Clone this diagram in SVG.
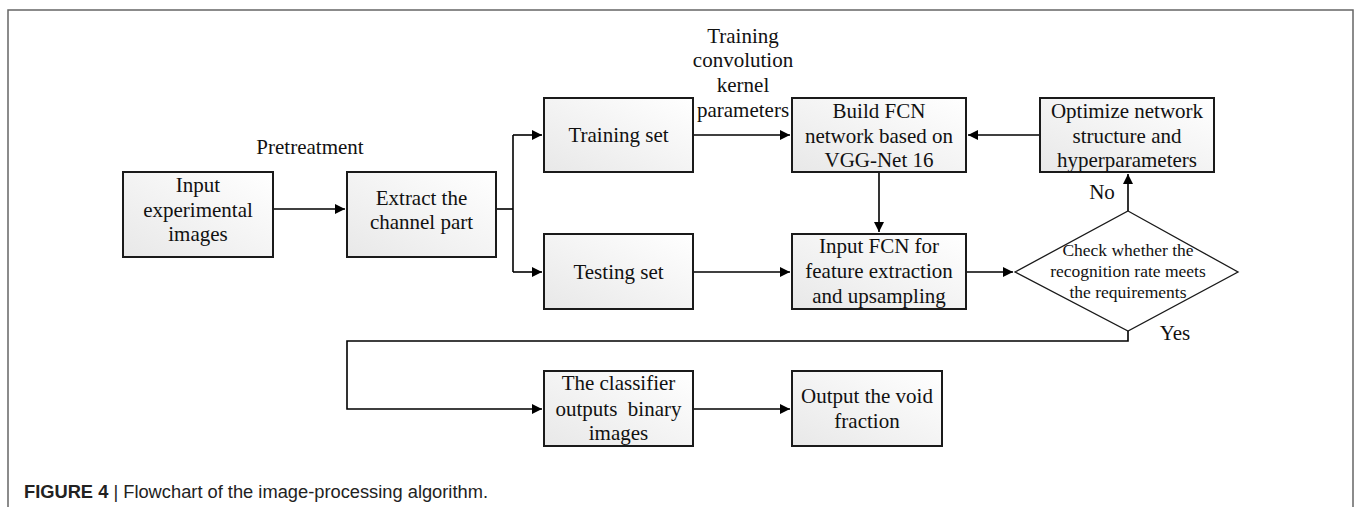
<svg xmlns="http://www.w3.org/2000/svg" width="1356" height="507" viewBox="0 0 1356 507">
<defs>
<linearGradient id="g" x1="1" y1="0" x2="0" y2="1">
<stop offset="0" stop-color="#ffffff"/>
<stop offset="1" stop-color="#e8e8e8"/>
</linearGradient>
<marker id="ah" viewBox="0 0 10 10" refX="10" refY="5" markerWidth="10" markerHeight="10" markerUnits="userSpaceOnUse" orient="auto">
<path d="M0,0 L10,5 L0,10 z" fill="#000"/>
</marker>
</defs>
<style>
.box{fill:url(#g);stroke:#1a1a1a;stroke-width:2}
.dia{fill:#fff;stroke:#1a1a1a;stroke-width:1.3}
.t{font-family:"Liberation Serif","Times New Roman",serif;font-size:21px;fill:#111;text-anchor:middle}
.ts{font-family:"Liberation Serif","Times New Roman",serif;font-size:17.5px;fill:#111;text-anchor:middle}
.c{fill:none;stroke:#000;stroke-width:1.6}
.cap{font-family:"Liberation Sans",Arial,sans-serif;font-size:18.3px;fill:#222}
</style>
<rect width="1356" height="507" fill="#fff"/>
<path d="M8,507 V10 H1353 V507" fill="none" stroke="#666" stroke-width="1.5"/>

<g id="connectors">
<path class="c" d="M273,209 H345" marker-end="url(#ah)"/>
<path class="c" d="M496,209 H513"/>
<path class="c" d="M513,135 V272"/>
<path class="c" d="M513,135 H542" marker-end="url(#ah)"/>
<path class="c" d="M513,272 H542" marker-end="url(#ah)"/>
<path class="c" d="M693,135 H790" marker-end="url(#ah)"/>
<path class="c" d="M1040,135 H968" marker-end="url(#ah)"/>
<path class="c" d="M879,172 V232" marker-end="url(#ah)"/>
<path class="c" d="M693,272 H790" marker-end="url(#ah)"/>
<path class="c" d="M966,272 H1013" marker-end="url(#ah)"/>
<path class="c" d="M1128,211 V174" marker-end="url(#ah)"/>
<path class="c" d="M1128,331 V341 H347 V409 H542" marker-end="url(#ah)"/>
<path class="c" d="M693,409 H790" marker-end="url(#ah)"/>
<text class="t" x="310" y="154">Pretreatment</text>
<text class="t" x="743" y="43">Training</text>
<text class="t" x="743" y="67">convolution</text>
<text class="t" x="743" y="92">kernel</text>
<text class="t" x="743" y="117">parameters</text>
<text class="t" x="1102" y="199">No</text>
<text class="t" x="1175" y="340">Yes</text>
</g>

<g id="n1"><rect class="box" x="123" y="172" width="150" height="85"/>
<text class="t" x="198" y="192">Input</text><text class="t" x="198" y="217">experimental</text><text class="t" x="198" y="241">images</text></g>

<g id="n2"><rect class="box" x="347" y="172" width="149" height="85"/>
<text class="t" x="421.5" y="205">Extract the</text><text class="t" x="421.5" y="229">channel part</text></g>

<g id="n3"><rect class="box" x="544" y="98" width="149" height="74"/>
<text class="t" x="618.5" y="142">Training set</text></g>

<g id="n4"><rect class="box" x="544" y="234" width="149" height="75"/>
<text class="t" x="618.5" y="279">Testing set</text></g>

<g id="n5"><rect class="box" x="792" y="98" width="174" height="74"/>
<text class="t" x="879" y="118">Build FCN</text><text class="t" x="879" y="143">network based on</text><text class="t" x="879" y="167">VGG-Net 16</text></g>

<g id="n6"><rect class="box" x="792" y="234" width="174" height="75"/>
<text class="t" x="879" y="253">Input FCN for</text><text class="t" x="879" y="278">feature extraction</text><text class="t" x="879" y="303">and upsampling</text></g>

<g id="n7"><rect class="box" x="1040" y="98" width="174" height="74"/>
<text class="t" x="1127" y="118">Optimize network</text><text class="t" x="1127" y="143">structure and</text><text class="t" x="1127" y="167">hyperparameters</text></g>

<g id="n8"><path class="dia" d="M1128,211 L1238,272 L1128,331 L1015,272 Z"/>
<text class="ts" x="1128" y="256">Check whether the</text><text class="ts" x="1128" y="277">recognition rate meets</text><text class="ts" x="1128" y="298">the requirements</text></g>

<g id="n9"><rect class="box" x="544" y="371" width="149" height="75"/>
<text class="t" x="618.5" y="390">The classifier</text><text class="t" x="618.5" y="416" xml:space="preserve">outputs  binary</text><text class="t" x="618.5" y="440">images</text></g>

<g id="n10"><rect class="box" x="792" y="371" width="150" height="75"/>
<text class="t" x="867" y="403">Output the void</text><text class="t" x="867" y="428">fraction</text></g>

<text class="cap" x="24" y="498"><tspan font-weight="bold">FIGURE 4</tspan> | Flowchart of the image-processing algorithm.</text>
</svg>
